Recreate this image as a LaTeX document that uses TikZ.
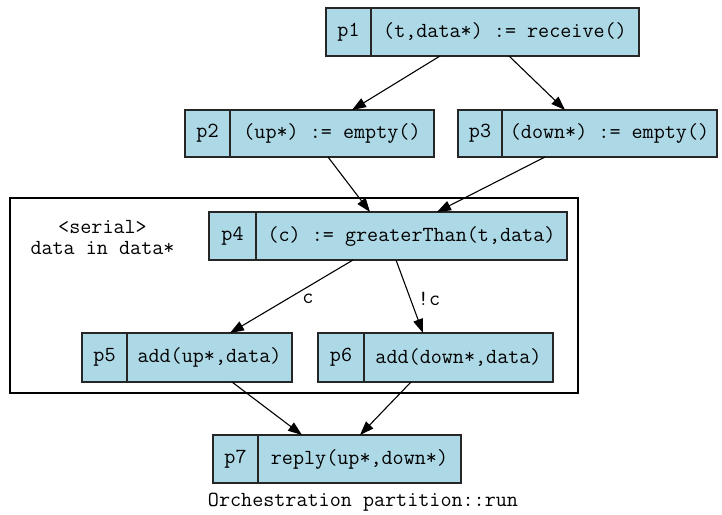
\documentclass[tikz,border=0pt]{standalone}
\usepackage{fontspec}
\usetikzlibrary{arrows.meta,calc}
\definecolor{recfill}{HTML}{ADD8E6}
\tikzset{
  rec/.style={draw=black!85, line width=1.1pt, fill=recfill, inner sep=0pt, outer sep=0pt},
  txt/.style={inner sep=0pt, font=\ttfamily\fontsize{21.5}{21}\selectfont},
  edge/.style={draw=black, line width=1.1pt, -{Triangle[length=14pt,width=10pt]}},
}
\newcommand{\recnode}[7]{% name, cx, cy, W, H, D, id text
  \node[rec, minimum width=#4pt, minimum height=#5pt] (#1) at (#2,#3) {};
  \draw[draw=black!85, line width=1.1pt] ([xshift=#6pt]#1.north west) -- ([xshift=#6pt]#1.south west);
  \node[txt] (#1id) at ($(#1.west)+(#6/2,0)$) {#7};
}
\begin{document}
\begin{tikzpicture}[x=1pt,y=-1pt]
\useasboundingbox (0,0) rectangle (722,514);
% cluster
\node[draw=black, line width=1.1pt, minimum width=568pt, minimum height=195pt, inner sep=0pt] (cl) at (294,295.5) {};
\node[txt, align=center] (serial) at (102.5,237.5) {<serial>\\data in data*};
% records
\recnode{p1}{482.5}{32}{313}{48}{45}{p1}
\node[txt] (p1t) at ($(p1.east)!0.5!([xshift=45pt]p1.west)$) {(t,data*) := receive()};
\recnode{p2}{309.5}{133.5}{249}{47}{45}{p2}
\node[txt] (p2t) at ($(p2.east)!0.5!([xshift=45pt]p2.west)$) {(up*) := empty()};
\recnode{p3}{587.5}{133.5}{259}{47}{44}{p3}
\node[txt] (p3t) at ($(p3.east)!0.5!([xshift=44pt]p3.west)$) {(down*) := empty()};
\recnode{p4}{388}{236}{358}{48}{47}{p4}
\node[txt] (p4t) at ($(p4.east)!0.5!([xshift=47pt]p4.west)$) {(c) := greaterThan(t,data)};
\recnode{p5}{187}{357.5}{210}{49}{45}{p5}
\node[txt] (p5t) at ($(p5.east)!0.5!([xshift=45pt]p5.west)$) {add(up*,data)};
\recnode{p6}{435.5}{357.5}{235}{49}{46}{p6}
\node[txt] (p6t) at ($(p6.east)!0.5!([xshift=46pt]p6.west)$) {add(down*,data)};
\recnode{p7}{337}{459}{248}{48}{45}{p7}
\node[txt] (p7t) at ($(p7.east)!0.5!([xshift=45pt]p7.west)$) {reply(up*,down*)};
% edges
\draw[edge] ([xshift=-42.5pt]p1.south) -- ([xshift=42.5pt]p2.north);
\draw[edge] ([xshift=26.5pt]p1.south) -- ([xshift=-22.5pt]p3.north);
\draw[edge] ([xshift=18.5pt]p2.south) -- ([xshift=-18pt]p4.north);
\draw[edge] ([xshift=-42.5pt]p3.south) -- ([xshift=49pt]p4.north);
\draw[edge] ([xshift=-35pt]p4.south) -- ([xshift=43pt]p5.north);
\draw[edge] ([xshift=8pt]p4.south) -- ([xshift=-12.5pt]p6.north);
\draw[edge] ([xshift=45pt]p5.south) -- ([xshift=-35pt]p7.north);
\draw[edge] ([xshift=-24.5pt]p6.south) -- ([xshift=23pt]p7.north);
% labels
\node[txt] (lc) at (308,299) {c};
\node[txt] (lnc) at (429,299) {!c};
% caption
\node[txt] (cap) at (363,502) {Orchestration partition::run};
\end{tikzpicture}
\end{document}
